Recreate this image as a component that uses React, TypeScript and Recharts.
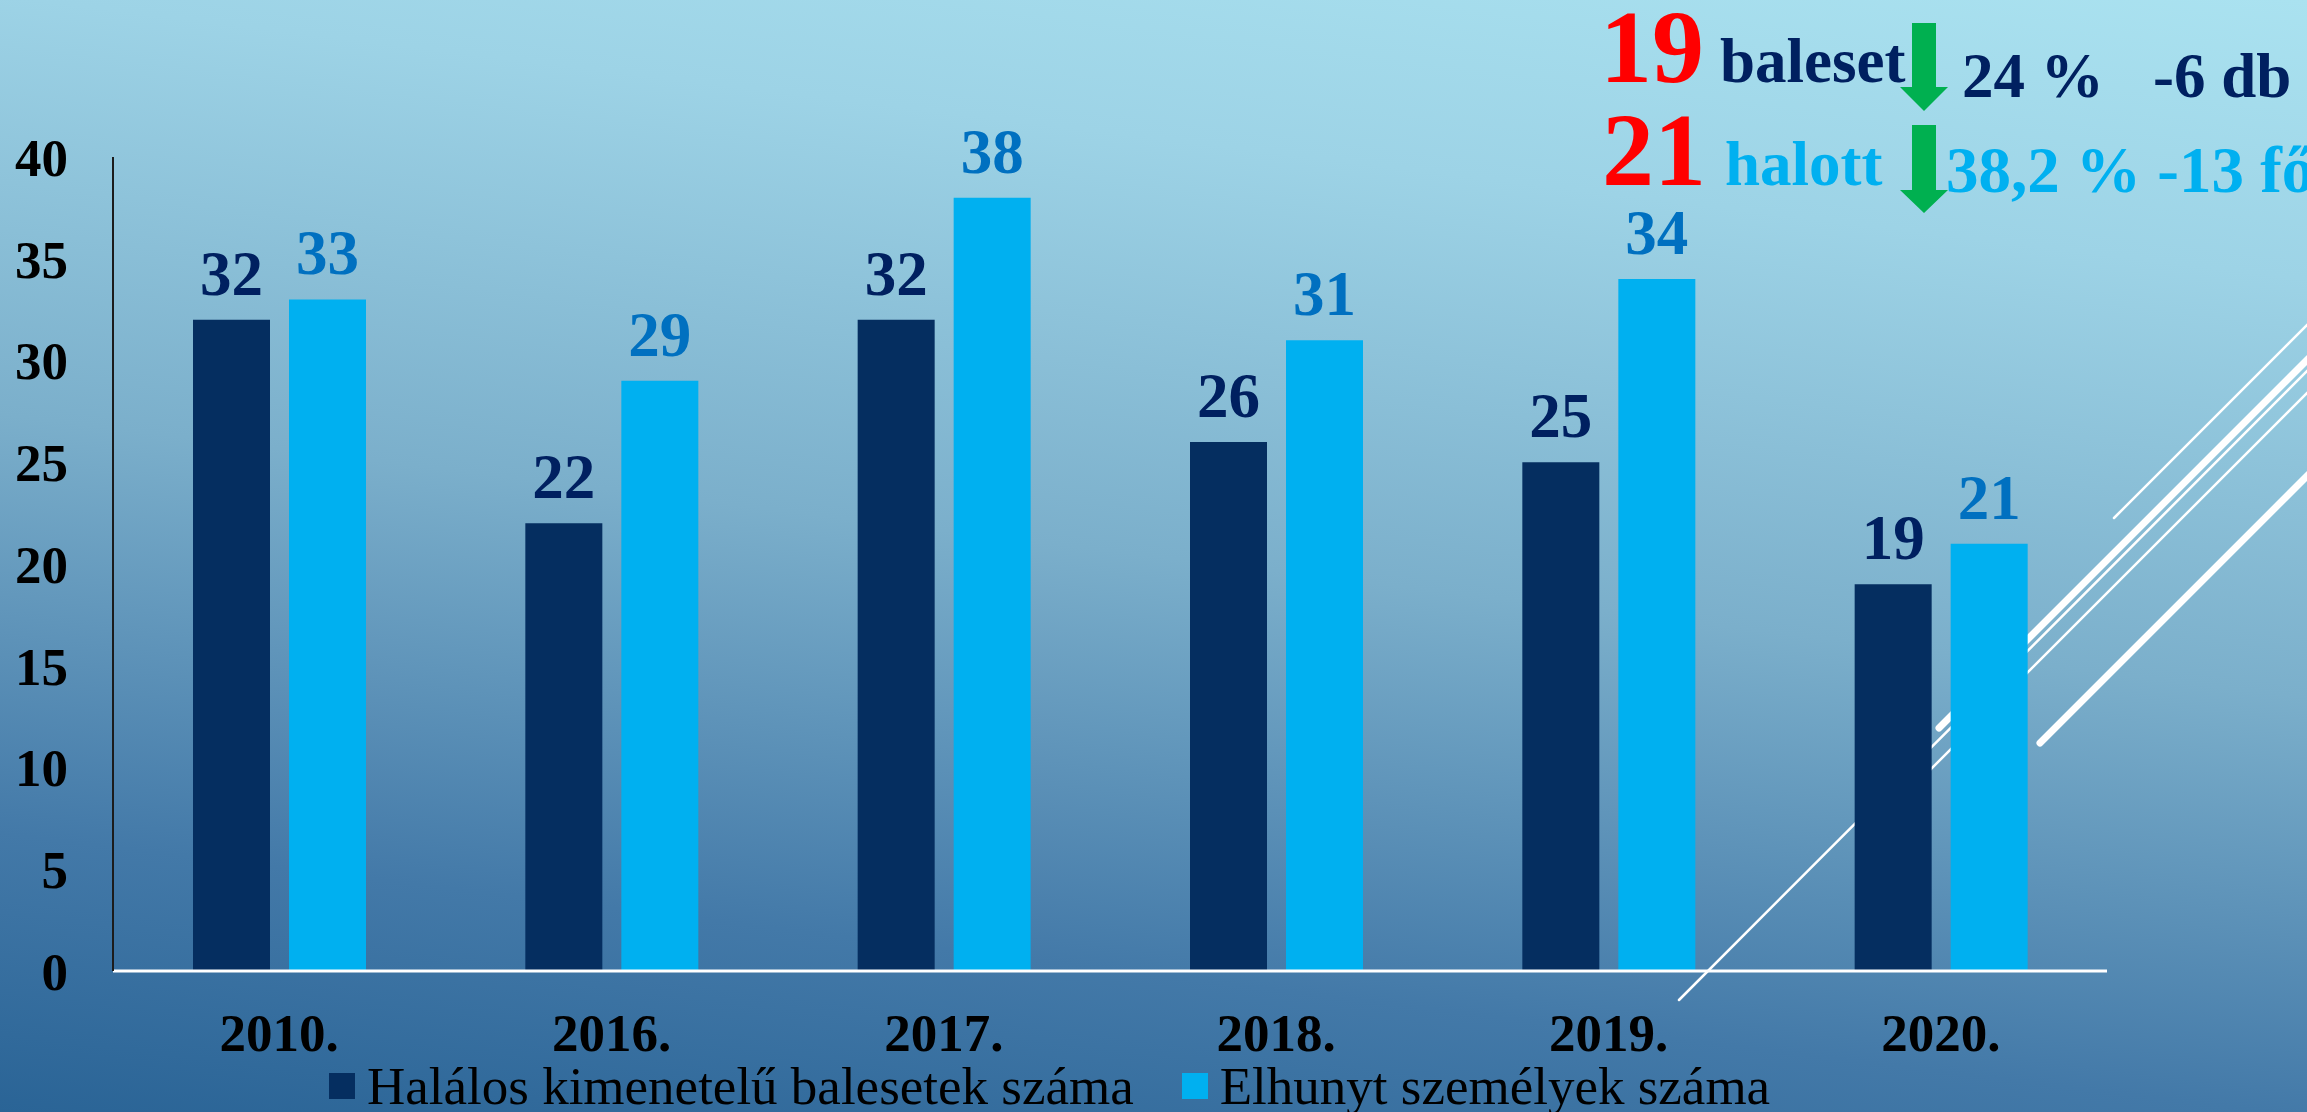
import React from 'react';
import { BarChart, Bar, XAxis, YAxis, LabelList } from 'recharts';

document.body.style.margin = '0';

const years = ['2010.', '2016.', '2017.', '2018.', '2019.', '2020.'];
const accidents = [32, 22, 32, 26, 25, 19];
const deaths = [33, 29, 38, 31, 34, 21];
const yTicks = [0, 5, 10, 15, 20, 25, 30, 35, 40];

const rows = years.map((year, i) => ({ year, accidents: accidents[i], deaths: deaths[i] }));

const serif = '"Liberation Serif", "Times New Roman", serif';
const DARK = '#052E60';
const LIGHT = '#00B0F0';

const XTick = (props: any) => {
  const { x, y, payload } = props;
  return (
    <text x={x} y={y + 80} textAnchor="middle" fill="#000" fontSize={53} fontWeight={700} fontFamily={serif}>
      {payload.value}
    </text>
  );
};

const Arrow = ({ x, top, neck, tip }: { x: number; top: number; neck: number; tip: number }) => (
  <polygon
    fill="#00B050"
    points={`${x - 12},${top} ${x + 12},${top} ${x + 12},${neck} ${x + 24},${neck} ${x},${tip} ${x - 24},${neck} ${x - 12},${neck}`}
  />
);

export default function App() {
  return (
    <div
      style={{
        position: 'relative',
        width: 2307,
        height: 1112,
        overflow: 'hidden',
        background:
          'linear-gradient(187deg, #AAE2F0 0%, #9DD3E6 20%, #7BAFCB 50%, #4379A8 80%, #2A6496 100%)',
      }}
    >
      {/* decorative lines */}
      <svg width={2307} height={1112} style={{ position: 'absolute', left: 0, top: 0 }}>
        <g stroke="#fff" strokeLinecap="round" fill="none">
          <line x1={2114} y1={518} x2={2320} y2={312} strokeWidth={2.5} />
          <line x1={1939} y1={728} x2={2320} y2={347} strokeWidth={7} />
          <line x1={1679} y1={1000} x2={2320} y2={358} strokeWidth={2.5} />
          <line x1={1900} y1={800} x2={2320} y2={380} strokeWidth={2.5} />
          <line x1={2040} y1={743} x2={2320} y2={463} strokeWidth={7} />
        </g>
      </svg>

      <div style={{ position: 'absolute', left: 0, top: 0 }}>
        <BarChart
          width={2307}
          height={1112}
          data={rows}
          margin={{ top: 157, right: 200, left: 0, bottom: 0 }}
          barCategoryGap={80}
          barGap={19}
        >
          <XAxis
            dataKey="year"
            height={141}
            interval={0}
            axisLine={{ stroke: '#fff', strokeWidth: 3 }}
            tickLine={false}
            tickSize={0}
            tickMargin={0}
            tick={<XTick />}
          />
          <YAxis
            width={113}
            domain={[0, 40]}
            ticks={yTicks}
            interval={0}
            axisLine={{ stroke: '#1c1c1c', strokeWidth: 2 }}
            tickLine={false}
            tickSize={0}
            tickMargin={45}
            tick={{ fill: '#000', fontSize: 53, fontWeight: 700, fontFamily: serif }}
          />
          <Bar dataKey="accidents" fill={DARK} isAnimationActive={false}>
            <LabelList
              dataKey="accidents"
              position="top"
              offset={25}
              fill="#002060"
              fontSize={63}
              fontWeight={700}
              fontFamily={serif}
            />
          </Bar>
          <Bar dataKey="deaths" fill={LIGHT} isAnimationActive={false}>
            <LabelList
              dataKey="deaths"
              position="top"
              offset={25}
              fill="#0070C0"
              fontSize={63}
              fontWeight={700}
              fontFamily={serif}
            />
          </Bar>
        </BarChart>
      </div>

      {/* summary in the top right corner */}
      <svg width={2307} height={240} style={{ position: 'absolute', left: 0, top: 0 }}>
        <g fontFamily={serif} fontWeight={700}>
          <text x={1600} y={82} fontSize={104} fill="#FF0000">19</text>
          <text x={1720} y={82} fontSize={63} fill="#002060">baleset</text>
          <Arrow x={1924} top={23} neck={87} tip={111} />
          <text x={1962} y={97} fontSize={63} fill="#002060">24 %</text>
          <text x={2153} y={97} fontSize={63} fill="#002060">-6 db</text>

          <text x={1602} y={185} fontSize={104} fill="#FF0000">21</text>
          <text x={1725} y={185} fontSize={63} fill={LIGHT}>halott</text>
          <Arrow x={1924} top={125} neck={190} tip={213} />
          <text x={1946} y={192} fontSize={65} fill={LIGHT}>38,2 % -13 fő</text>
        </g>
      </svg>

      {/* legend */}
      <div
        style={{
          position: 'absolute',
          left: 329,
          top: 1061,
          display: 'flex',
          alignItems: 'center',
          fontFamily: serif,
          fontSize: 53,
          color: '#000',
          whiteSpace: 'nowrap',
          lineHeight: '50px',
        }}
      >
        <span style={{ width: 26, height: 26, background: DARK, marginRight: 12 }} />
        <span>Halálos kimenetelű balesetek száma</span>
        <span style={{ width: 26, height: 26, background: LIGHT, marginLeft: 48, marginRight: 12 }} />
        <span>Elhunyt személyek száma</span>
      </div>
    </div>
  );
}
